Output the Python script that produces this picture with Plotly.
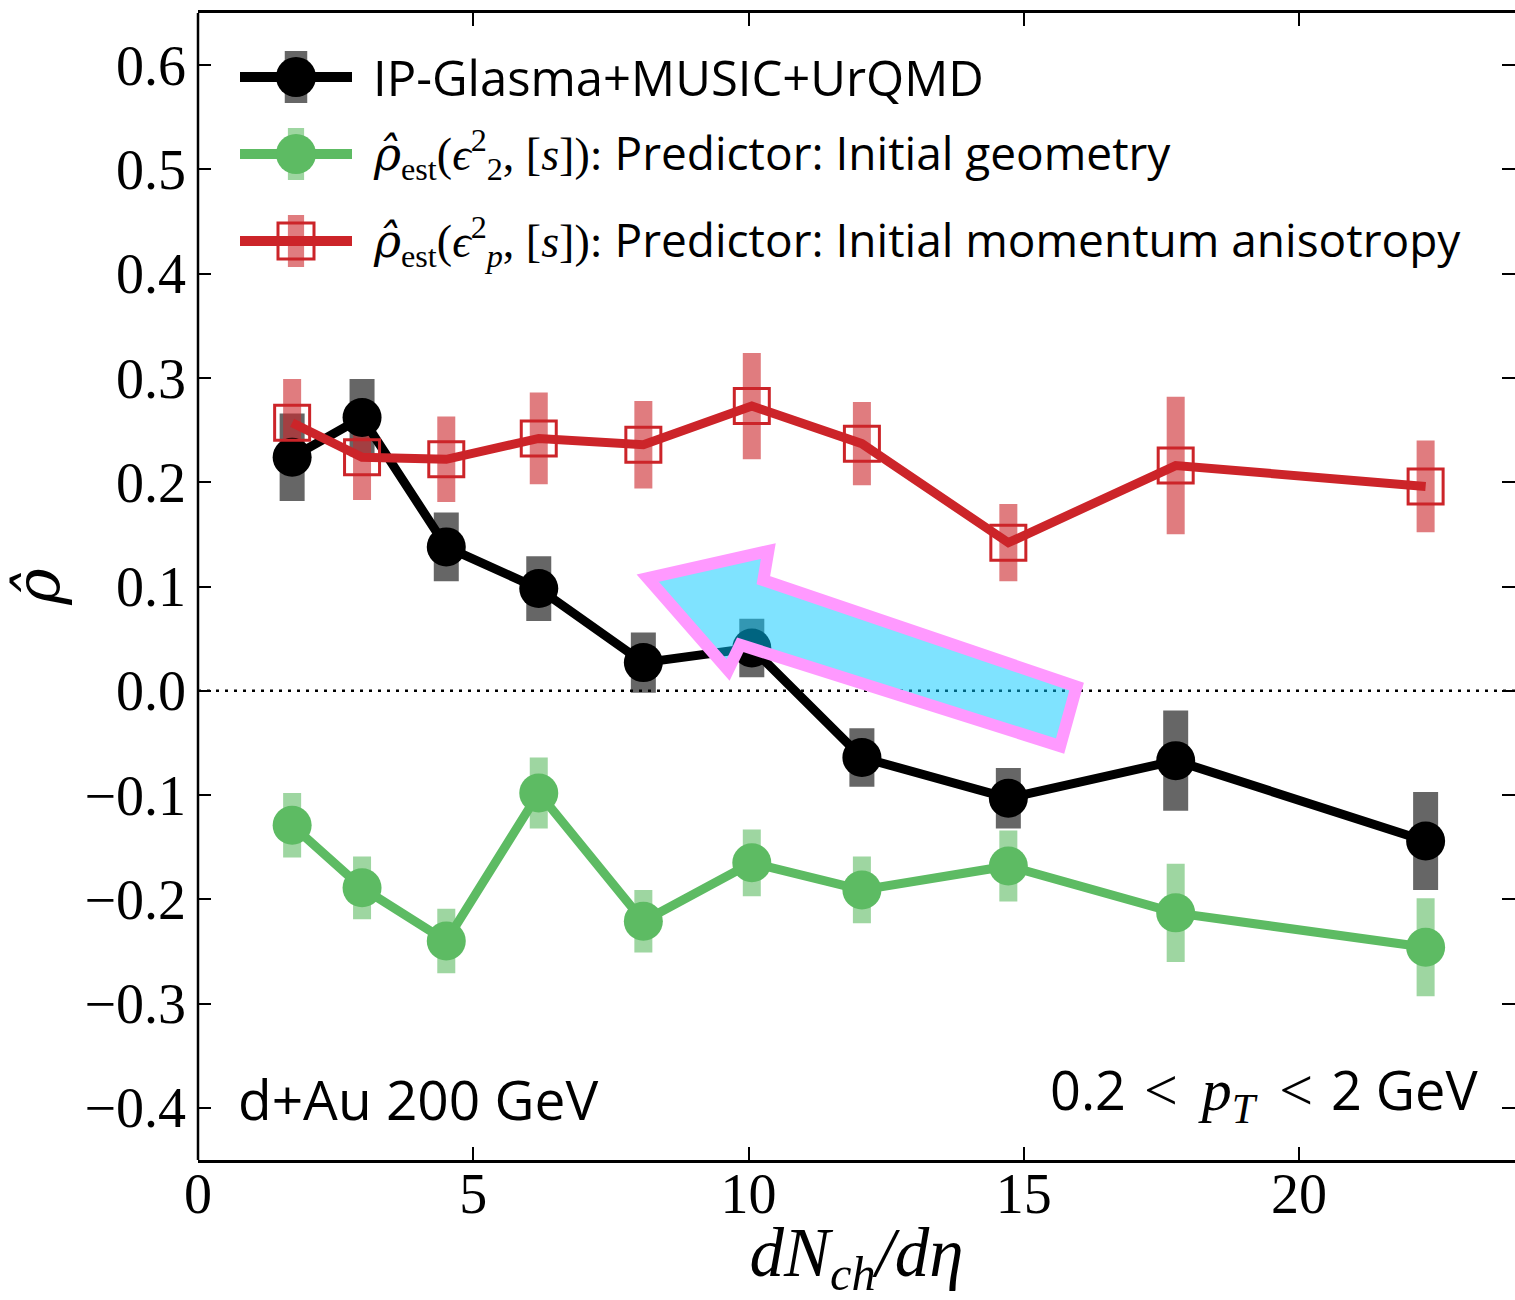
import plotly.graph_objects as go

# ---- data -------------------------------------------------------------
dndeta = [1.71, 2.98, 4.51, 6.19, 8.09, 10.06, 12.06, 14.72, 17.76, 22.30]

rho_model = [0.224, 0.262, 0.138, 0.098, 0.027, 0.041, -0.064, -0.103, -0.067, -0.144]
rho_model_err = [0.042, 0.037, 0.033, 0.031, 0.029, 0.028, 0.028, 0.029, 0.048, 0.047]

rho_geom = [-0.129, -0.189, -0.240, -0.098, -0.221, -0.165, -0.191, -0.168, -0.213, -0.246]
rho_geom_err = [0.031, 0.030, 0.031, 0.034, 0.030, 0.032, 0.032, 0.034, 0.047, 0.047]

rho_mom = [0.257, 0.224, 0.222, 0.242, 0.236, 0.273, 0.237, 0.142, 0.216, 0.196]
rho_mom_err = [0.042, 0.041, 0.041, 0.044, 0.042, 0.051, 0.040, 0.037, 0.066, 0.044]

x_ticks = [0, 5, 10, 15, 20]
y_ticks = [-0.4, -0.3, -0.2, -0.1, 0.0, 0.1, 0.2, 0.3, 0.4, 0.5, 0.6]
y_ticktext = ["−0.4", "−0.3", "−0.2", "−0.1", "0.0", "0.1", "0.2", "0.3", "0.4", "0.5", "0.6"]

# outline of the highlight arrow (data coordinates)
arrow_x = [8.17, 10.36, 10.27, 15.96, 15.66, 9.85, 9.63]
arrow_y = [0.108, 0.134, 0.106, 0.004, -0.053, 0.044, 0.020]

# ---- styling ----------------------------------------------------------
W, H = 1515, 1300
L, R, T, B = 198, 0, 13, 140
X_MAX = (W - L - R) / 55.05

SERIF = "Liberation Serif"
HATFONT = "DejaVu Serif"
SANS = "Open Sans"

BLACK = "#000000"
GREEN = "#5DBB63"
RED = "#CC2429"

RHO_HAT = f'<span style="font-family:{HATFONT}"><i>ρ̂</i></span>'
GAP = "\u2009\u2009"  # math-style spacing around relations

series = [
    dict(name="IP-Glasma+MUSIC+UrQMD", y=rho_model, err=rho_model_err,
         color=BLACK, bar="rgba(0,0,0,0.6)", barw=25, symbol="circle", size=39,
         label="IP-Glasma+MUSIC+UrQMD", fsize=49),
    dict(name="rho_est(eps2)", y=rho_geom, err=rho_geom_err,
         color=GREEN, bar="rgba(93,187,99,0.6)", barw=18, symbol="circle", size=39,
         label=(f'{RHO_HAT}<span style="font-family:{SERIF}"><sub>est</sub>(<i>ϵ</i>'
                f'<sup>2</sup><sub>2</sub>, [<i>s</i>]):</span> Predictor: Initial geometry'),
         fsize=46),
    dict(name="rho_est(epsp)", y=rho_mom, err=rho_mom_err,
         color=RED, bar="rgba(204,36,41,0.6)", barw=18, symbol="square-open", size=35,
         label=(f'{RHO_HAT}<span style="font-family:{SERIF}"><sub>est</sub>(<i>ϵ</i>'
                f'<sup>2</sup><sub><i>p</i></sub>, [<i>s</i>]):</span> Predictor: Initial momentum anisotropy'),
         fsize=46),
]

fig = go.Figure()

# error bands first so every line and marker sits above them
for s in series:
    fig.add_trace(go.Scatter(
        x=dndeta, y=s["y"], mode="markers",
        marker=dict(size=1, color="rgba(0,0,0,0)"),
        error_y=dict(type="data", array=s["err"], visible=True,
                     color=s["bar"], thickness=s["barw"], width=0),
        showlegend=False, hoverinfo="skip",
    ))

for s in series:
    if s["symbol"] == "circle":
        marker = dict(symbol="circle", size=s["size"], color=s["color"], line=dict(width=0))
    else:
        marker = dict(symbol="square-open", size=s["size"], color=s["color"],
                      line=dict(width=3, color=s["color"]))
    fig.add_trace(go.Scatter(
        x=dndeta, y=s["y"], mode="lines+markers", name=s["name"],
        line=dict(color=s["color"], width=9),
        marker=marker, showlegend=False,
    ))


def px_x(px):
    return (px - L) / (W - L - R)


def px_y(py):
    return (H - B - py) / (H - T - B)


shapes = []
# left spine (the right one falls off the canvas edge)
shapes.append(dict(type="line", xref="paper", yref="paper", x0=0, x1=0, y0=0, y1=1,
                   line=dict(color="black", width=2.5), layer="above"))
# dotted zero reference line
shapes.append(dict(type="line", xref="paper", yref="y", x0=0, x1=1, y0=0, y1=0,
                   line=dict(color="black", width=2.5, dash="3px,6px"), layer="below"))

# highlight arrow
path = "M " + " L ".join(f"{ax},{ay}" for ax, ay in zip(arrow_x, arrow_y)) + " Z"
shapes.append(dict(type="path", xref="x", yref="y", path=path,
                   fillcolor="rgba(0,200,255,0.5)",
                   line=dict(color="#FF99FF", width=12), layer="above"))

# hand-built legend keys
rows_py = [77, 154, 241]
key_cx, key_x0, key_x1 = 296, 240, 352
annotations = []
for s, py in zip(series, rows_py):
    yc = px_y(py)
    shapes.append(dict(type="rect", xref="paper", yref="paper",
                       xsizemode="pixel", ysizemode="pixel",
                       xanchor=px_x(key_cx), yanchor=yc,
                       x0=-s["barw"] * 0.45, x1=s["barw"] * 0.45, y0=-26, y1=26,
                       fillcolor=s["bar"], line=dict(width=0), layer="above"))
    shapes.append(dict(type="line", xref="paper", yref="paper",
                       x0=px_x(key_x0), x1=px_x(key_x1), y0=yc, y1=yc,
                       line=dict(color=s["color"], width=10), layer="above"))
    if s["symbol"] == "circle":
        shapes.append(dict(type="circle", xref="paper", yref="paper",
                           xsizemode="pixel", ysizemode="pixel",
                           xanchor=px_x(key_cx), yanchor=yc,
                           x0=-20, x1=20, y0=-20, y1=20,
                           fillcolor=s["color"], line=dict(width=0), layer="above"))
    else:
        shapes.append(dict(type="rect", xref="paper", yref="paper",
                           xsizemode="pixel", ysizemode="pixel",
                           xanchor=px_x(key_cx), yanchor=yc,
                           x0=-18, x1=18, y0=-18, y1=18,
                           fillcolor="rgba(0,0,0,0)",
                           line=dict(color=s["color"], width=3), layer="above"))
    annotations.append(dict(xref="paper", yref="paper", x=px_x(371), y=yc,
                            xanchor="left", yanchor="middle", showarrow=False,
                            text=s["label"],
                            font=dict(family=SANS, size=s["fsize"], color="black")))

annotations.append(dict(xref="paper", yref="paper", x=px_x(236), y=px_y(1098),
                        xanchor="left", yanchor="middle", showarrow=False,
                        text="d+Au 200 GeV", font=dict(family=SANS, size=55, color="black")))
annotations.append(dict(xref="paper", yref="paper", x=px_x(1480), y=px_y(1092),
                        xanchor="right", yanchor="middle", showarrow=False,
                        text=(f'0.2{GAP}<span style="font-family:{SERIF};font-size:60px">&lt;{GAP}'
                              f'<i>p</i><sub><i>T</i></sub>{GAP}&lt;</span>{GAP}2 GeV'),
                        font=dict(family=SANS, size=54, color="black")))

axis_common = dict(linecolor="black", linewidth=2.5, mirror="ticks",
                   ticks="inside", ticklen=13, tickwidth=2, tickcolor="black",
                   showgrid=False, zeroline=False,
                   tickfont=dict(family=SERIF, size=56, color="black"))

fig.update_layout(
    width=W, height=H,
    margin=dict(l=L, r=R, t=T, b=B, pad=0),
    paper_bgcolor="white", plot_bgcolor="white",
    xaxis=dict(range=[0, X_MAX], tickvals=x_ticks, ticktext=[str(v) for v in x_ticks],
               showline=True, ticklabelstandoff=-17,
               title=dict(text="<i>dN</i><sub><i>ch</i></sub><i>/dη</i>",
                          font=dict(family=SERIF, size=69, color="black"), standoff=8),
               **axis_common),
    yaxis=dict(range=[-0.45, 0.65], tickvals=y_ticks, ticktext=y_ticktext,
               showline=False, ticklabelstandoff=11,
               title=dict(text=RHO_HAT, font=dict(family=SERIF, size=62, color="black"),
                          standoff=4),
               **axis_common),
    shapes=shapes,
    annotations=annotations,
    showlegend=False,
)

fig.write_html("out.html")
